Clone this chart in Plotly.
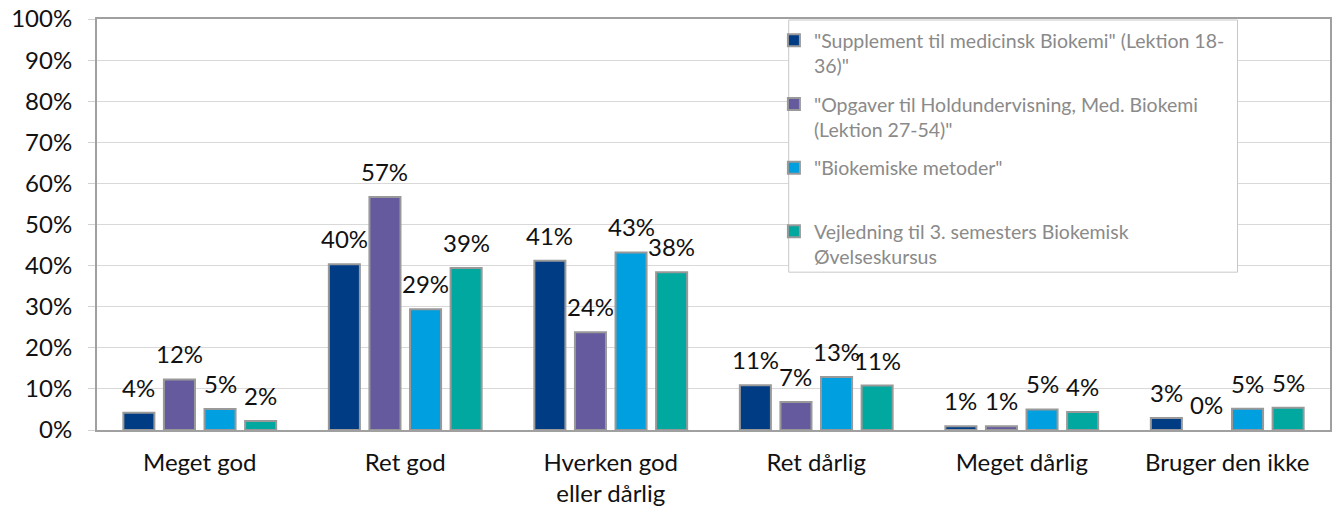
import plotly.graph_objects as go

categories = ["Meget god", "Ret god", "Hverken god<br>eller dårlig", "Ret dårlig", "Meget dårlig", "Bruger den ikke"]

series_names = [
    "\"Supplement til medicinsk Biokemi\" (Lektion 18-<br>36)\"",
    "\"Opgaver til Holdundervisning, Med. Biokemi<br>(Lektion 27-54)\"",
    "\"Biokemiske metoder\"<br> ",
    "Vejledning til 3. semesters Biokemisk<br>Øvelseskursus",
]

supplement = [0.042, 0.403, 0.412, 0.109, 0.009, 0.029]
opgaver = [0.123, 0.567, 0.238, 0.068, 0.009, 0.0]
metoder = [0.051, 0.294, 0.432, 0.129, 0.050, 0.052]
vejledning = [0.022, 0.394, 0.384, 0.108, 0.044, 0.054]

series_values = [supplement, opgaver, metoder, vejledning]
colors = ["#003C84", "#665A9E", "#009FDF", "#00A8A0"]

FONT = "Lato"
BARGAP = 0.21
BARGROUPGAP = 0.235
n_series = len(series_values)

fig = go.Figure()
annotations = []
slot = (1 - BARGAP) / n_series
for i, (name, vals, col) in enumerate(zip(series_names, series_values, colors)):
    fig.add_trace(go.Bar(
        x=list(range(len(categories))), y=vals, name=name,
        marker=dict(color=col,
                    line=dict(color="#999999", width=[0 if v == 0 else 2 for v in vals])),
        legendgroup=f"g{i}",
        hoverinfo="skip",
    ))
    for j, v in enumerate(vals):
        annotations.append(dict(
            x=j + (i - (n_series - 1) / 2) * slot, y=v, xref="x", yref="y",
            text=f"{round(v*100):.0f}%", showarrow=False,
            yanchor="bottom", xanchor="center", yshift=9,
            font=dict(size=24, color="#111111", family=FONT),
        ))

fig.update_layout(
    width=1335, height=506,
    margin=dict(l=97, r=5, t=19, b=76),
    paper_bgcolor="white", plot_bgcolor="white",
    barmode="group", bargap=BARGAP, bargroupgap=BARGROUPGAP,
    font=dict(family=FONT, size=24, color="#111111"),
    showlegend=True,
    legend=dict(
        x=0.549, y=0.995, xanchor="left", yanchor="top",
        bgcolor="rgba(0,0,0,0)", borderwidth=0,
        font=dict(family=FONT, size=19.5, color="#8a8a8a"),
        valign="top", tracegroupgap=10,
        itemwidth=30,
    ),
    annotations=annotations,
    shapes=[dict(
        type="rect", xref="paper", yref="paper",
        x0=0.561, x1=0.925, y0=0.384, y1=0.9976,
        fillcolor="white", line=dict(color="#c8c8c8", width=1), layer="above",
    )],
)
fig.update_xaxes(
    tickmode="array", tickvals=list(range(len(categories))), ticktext=categories,
    range=[-0.5, len(categories) - 0.5],
    showline=True, mirror=True, linecolor="#a0a0a0", linewidth=2,
    tickfont=dict(size=24, family=FONT, color="#111111"),
    ticks="", ticklabelstandoff=10, automargin=False,
)
fig.update_yaxes(
    range=[0, 1], dtick=0.1, tickformat=".0%",
    showgrid=True, gridcolor="#d9d9d9", gridwidth=1,
    showline=True, mirror=True, linecolor="#a0a0a0", linewidth=2,
    ticks="outside", ticklen=7, tickcolor="#d0d0d0",
    tickfont=dict(size=24, family=FONT, color="#111111"),
    ticklabelstandoff=11, automargin=False, ticklabeloverflow="allow",
    zeroline=False,
)

fig.write_html("out.html", config={"displayModeBar": False},
               post_script="document.body.style.margin='0';")
